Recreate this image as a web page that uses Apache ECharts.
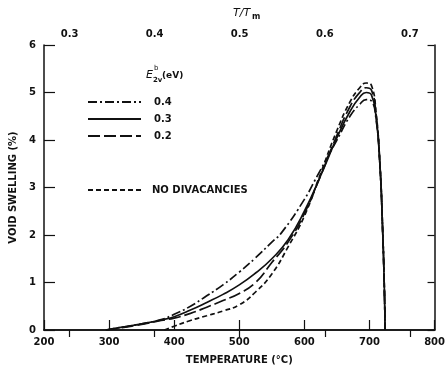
<!DOCTYPE html>
<html>
<head>
<meta charset="utf-8">
<script src="https://cdn.jsdelivr.net/npm/echarts@6/dist/echarts.min.js"></script>
<style>
  html, body { margin: 0; padding: 0; background: #fff; }
  #chart { width: 448px; height: 370px; }
</style>
</head>
<body>
<div id="chart"></div>
<script>
// --- данные (температура °C, распухание %) ---
const temp04 = [295, 320, 350, 380, 400, 425, 450, 475, 500, 525, 550, 565, 600, 620, 650, 670, 685, 695, 703, 710, 716, 720, 723, 724];
const swell04 = [0, 0.06, 0.13, 0.22, 0.33, 0.5, 0.72, 0.95, 1.22, 1.52, 1.85, 2.05, 2.75, 3.25, 4.0, 4.5, 4.75, 4.85, 4.82, 4.45, 3.5, 2.2, 0.8, 0];

const temp03 = [295, 320, 350, 380, 400, 425, 450, 475, 500, 525, 550, 575, 600, 625, 650, 670, 685, 695, 703, 710, 716, 720, 723, 724];
const swell03 = [0, 0.06, 0.13, 0.21, 0.28, 0.42, 0.58, 0.75, 0.95, 1.2, 1.5, 1.9, 2.5, 3.25, 4.05, 4.6, 4.9, 5.0, 4.95, 4.5, 3.5, 2.2, 0.8, 0];

const temp02 = [295, 320, 350, 380, 400, 425, 450, 475, 500, 525, 550, 575, 600, 625, 650, 670, 685, 695, 703, 710, 716, 720, 723, 724];
const swell02 = [0, 0.05, 0.12, 0.2, 0.25, 0.35, 0.48, 0.62, 0.77, 1.0, 1.42, 1.85, 2.45, 3.25, 4.1, 4.7, 5.0, 5.1, 5.05, 4.55, 3.5, 2.2, 0.8, 0];

const tempNoDiv = [385, 400, 425, 450, 475, 500, 525, 550, 575, 600, 625, 650, 670, 685, 695, 703, 710, 716, 720, 723, 724];
const swellNoDiv = [0, 0.08, 0.2, 0.3, 0.4, 0.53, 0.8, 1.18, 1.75, 2.4, 3.3, 4.2, 4.8, 5.1, 5.2, 5.15, 4.6, 3.5, 2.2, 0.8, 0];

const ratioTicks = [0.3, 0.4, 0.5, 0.6, 0.7];   // верхняя шкала T/Tm

const INK = '#111';
const FONT = 'DejaVu Sans';

const pairs = (xs, ys) => xs.map((x, i) => [x, ys[i]]);

function lineSeries(name, xs, ys, dash) {
  return {
    name, type: 'line', data: pairs(xs, ys),
    symbol: 'none', smooth: 0.5,
    lineStyle: { color: INK, width: 1.7, type: dash },
    itemStyle: { color: INK },
    xAxisIndex: 0, yAxisIndex: 0,
  };
}

const chart = echarts.init(document.getElementById('chart'));
const txt = { color: INK, fontFamily: FONT, fontSize: 10, fontWeight: 'bold' };

chart.setOption({
  animation: false,
  grid: { left: 41, right: 11, top: 45, bottom: 37 },
  xAxis: [
    {
      type: 'value', min: 200, max: 800, interval: 100,
      name: 'TEMPERATURE (°C)', nameLocation: 'middle', nameGap: 25,
      nameTextStyle: txt,
      axisLine: { lineStyle: { color: INK, width: 1.5 } },
      axisTick: { inside: true, length: 10, lineStyle: { color: INK, width: 1.2 } },
      axisLabel: Object.assign({ margin: 7 }, txt),
      splitLine: { show: false },
    },
    {
      type: 'value', position: 'top', min: 0.27, max: 0.729,
      axisLine: { lineStyle: { color: INK, width: 1.5 } },
      axisTick: { inside: true, length: 7, customValues: ratioTicks, lineStyle: { color: INK, width: 1.2 } },
      axisLabel: Object.assign({ margin: 6, customValues: ratioTicks, formatter: (v) => v.toFixed(1) }, txt),
      splitLine: { show: false },
    },
  ],
  yAxis: [
    {
      type: 'value', min: 0, max: 6, interval: 1,
      name: 'VOID SWELLING (%)', nameLocation: 'middle', nameGap: 26,
      nameTextStyle: txt,
      axisLine: { show: true, lineStyle: { color: INK, width: 1.5 } },
      axisTick: { show: true, inside: true, length: 11, lineStyle: { color: INK, width: 1.2 } },
      axisLabel: Object.assign({ margin: 8 }, txt),
      splitLine: { show: false },
    },
    {
      type: 'value', min: 0, max: 6, interval: 1, position: 'right',
      axisLine: { show: true, lineStyle: { color: INK, width: 1.5 } },
      axisTick: { show: true, inside: true, length: 7, lineStyle: { color: INK, width: 1.2 } },
      axisLabel: { show: false },
      splitLine: { show: false },
    },
  ],
  // у линейных серий легенда рисует кружок — прячем его, остаётся только штрих
  legend: [
    {
      data: ['0.4', '0.3', '0.2'], orient: 'vertical', left: 82, top: 92,
      itemWidth: 53, itemHeight: 10, itemGap: 7,
      itemStyle: { opacity: 0 },
      textStyle: Object.assign({ padding: [0, 0, 0, 8] }, txt),
    },
    {
      data: ['NO DIVACANCIES'], left: 82, top: 180,
      itemWidth: 53, itemHeight: 10,
      itemStyle: { opacity: 0 },
      textStyle: Object.assign({ padding: [0, 0, 0, 6] }, txt),
    },
  ],
  // подписи с индексами: заголовок легенды и имя верхней оси
  graphic: [
    { type: 'text', left: 146, top: 70, style: { text: 'E', font: 'italic 11px ' + FONT, fill: INK } },
    { type: 'text', left: 154, top: 65, style: { text: 'b', font: '7px ' + FONT, fill: INK } },
    { type: 'text', left: 153, top: 77, style: { text: '2v', font: 'bold 7px ' + FONT, fill: INK } },
    { type: 'text', left: 162, top: 71, style: { text: '(eV)', font: 'bold 9px ' + FONT, fill: INK } },
    { type: 'text', left: 233, top: 8, style: { text: 'T/T', font: 'italic 11px ' + FONT, fill: INK } },
    { type: 'text', left: 252, top: 13, style: { text: 'm', font: 'bold 8px ' + FONT, fill: INK } },
  ],
  series: [
    lineSeries('0.4', temp04, swell04, [9, 3, 2, 3]),
    lineSeries('0.3', temp03, swell03, 'solid'),
    lineSeries('0.2', temp02, swell02, [12, 4]),
    lineSeries('NO DIVACANCIES', tempNoDiv, swellNoDiv, [5, 3]),
  ],
});
</script>
</body>
</html>
